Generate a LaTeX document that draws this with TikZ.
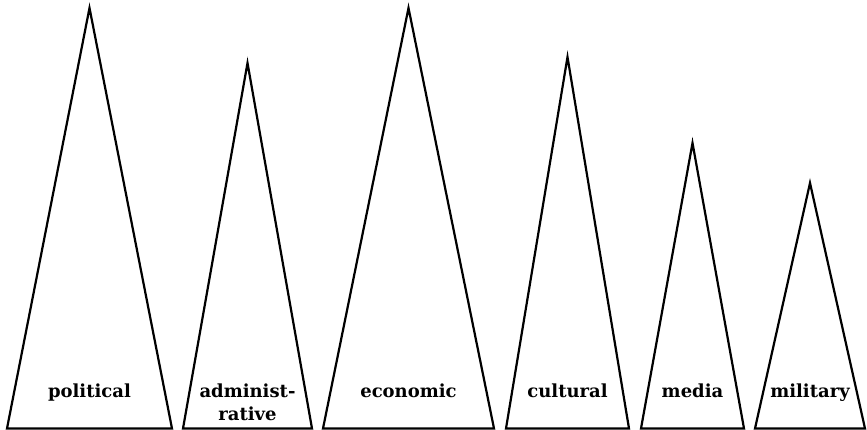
\documentclass[tikz,border=0pt]{standalone}
\usepackage{fontspec}
\setmainfont{DejaVu Serif}
\usepackage{tikz}

\begin{document}
\begin{tikzpicture}[
  x=1pt, y=-1pt,
  peak/.style={draw, line width=2.2pt, line join=miter},
  sector/.style={font=\bfseries\fontsize{18}{23}\selectfont, align=center, anchor=base, inner sep=0pt}
]
\useasboundingbox (0,0) rectangle (867,430);
% left edge / right edge / apex height / label baseline / name / label
\foreach \l/\r/\t/\b/\n/\txt in {
    7/172/8/397/pol/political,
    183/312/63/420/adm/{administ-\\rative},
    323/494/8/397/eco/economic,
    506/629/57/397/cul/cultural,
    641/744/143/397/med/media,
    755/865/183/397/mil/military} {
  \draw[peak] (\l,428.5) -- ({(\l+\r)/2},\t) -- (\r,428.5) -- cycle;
  \node[sector] (\n) at ({(\l+\r)/2},\b) {\txt};
}
\end{tikzpicture}
\end{document}
